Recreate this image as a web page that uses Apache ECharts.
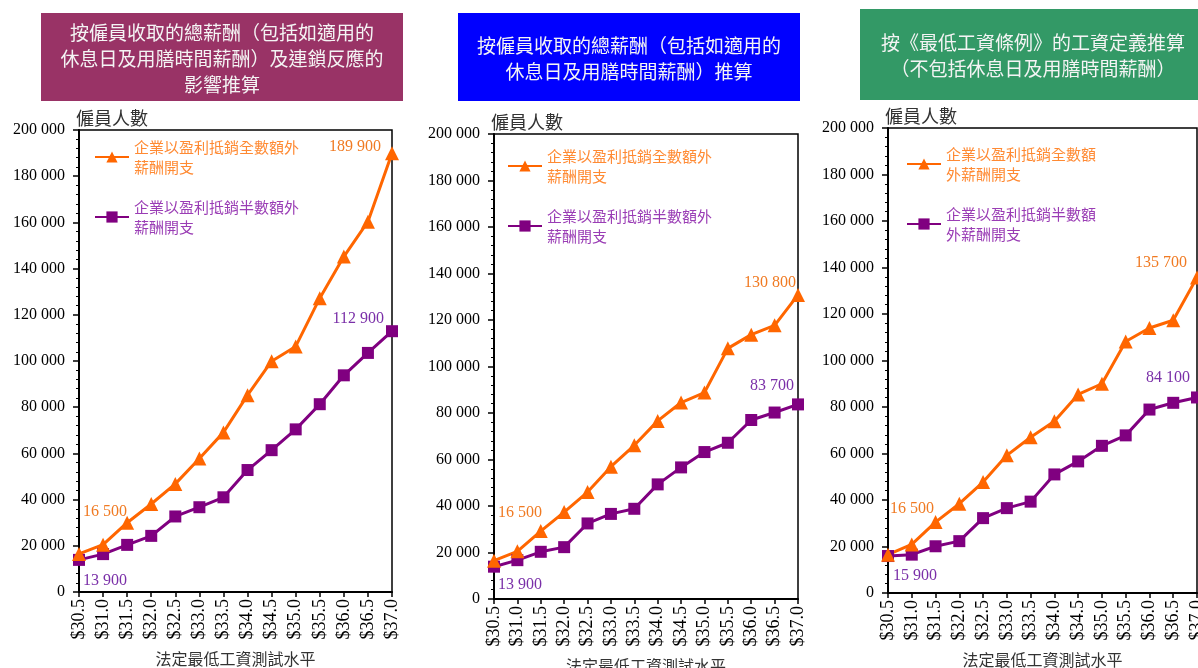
<!DOCTYPE html>
<html>
<head>
<meta charset="utf-8">
<script src="https://cdn.jsdelivr.net/npm/echarts@6/dist/echarts.min.js"></script>
<style>
html,body{margin:0;padding:0;background:#fff;}
#c{width:1198px;height:668px;}
</style>
</head>
<body>
<div id="c"></div>
<script>
// ---- data ----
const categories = ['$30.5','$31.0','$31.5','$32.0','$32.5','$33.0','$33.5','$34.0','$34.5','$35.0','$35.5','$36.0','$36.5','$37.0'];
const seriesFullName = '企業以盈利抵銷全數額外薪酬開支';
const seriesHalfName = '企業以盈利抵銷半數額外薪酬開支';
const panelTitles = [
  ['按僱員收取的總薪酬（包括如適用的', '休息日及用膳時間薪酬）及連鎖反應的', '影響推算'],
  ['按僱員收取的總薪酬（包括如適用的', '休息日及用膳時間薪酬）推算'],
  ['按《最低工資條例》的工資定義推算', '（不包括休息日及用膳時間薪酬）']
];
const yAxisTitle = '僱員人數';
const xAxisTitle = '法定最低工資測試水平';
const yTicks = [0, 20000, 40000, 60000, 80000, 100000, 120000, 140000, 160000, 180000, 200000];

const p1Full = [16500, 20500, 30000, 38100, 46800, 57800, 69100, 85200, 99900, 106300, 127200, 145200, 160300, 189900];
const p1Half = [13900, 16400, 20400, 24300, 32700, 36700, 41000, 52800, 61400, 70400, 81300, 93800, 103500, 112900];
const p2Full = [16500, 20500, 29200, 37400, 46000, 56900, 66100, 76600, 84500, 88800, 107800, 113700, 117700, 130800];
const p2Half = [13900, 16700, 20300, 22300, 32500, 36600, 38800, 49300, 56600, 63200, 67200, 77000, 80200, 83700];
const p3Full = [16500, 20900, 30500, 38400, 47700, 59200, 67000, 73900, 85400, 90000, 108200, 114000, 117300, 135700];
const p3Half = [15900, 16500, 20100, 22300, 32200, 36500, 39300, 51000, 56600, 63300, 67800, 78900, 81800, 84100];

// ---- styles / layout ----
const ORANGE = '#FF6600', PURPLE = '#800080';
const ORANGE_TXT = '#F07A22', PURPLE_TXT = '#7A2FA8';
const LEG_ORANGE = '#FF8A33', LEG_PURPLE = '#9A3DB5';
const SERIF = '"Liberation Serif", "Times New Roman", serif';
const CJK = '"Noto Sans CJK TC", sans-serif';

const grids = [
  {left: 79, top: 130, width: 313, height: 462},
  {left: 494, top: 134, width: 304, height: 465},
  {left: 888, top: 128, width: 309, height: 465}
];
const boxes = [
  {x: 41, y: 13, w: 362, h: 88, color: '#993366', cx: 222, lineY: [33, 59, 85]},
  {x: 458, y: 13, w: 342, h: 88, color: '#0000FF', cx: 629, lineY: [46, 72]},
  {x: 860, y: 9, w: 350, h: 91, color: '#339966', cx: 1033, lineY: [43, 69]}
];
const legendPos = [
  {left: 94, top: 127, full: '企業以盈利抵銷全數額外\n薪酬開支', half: '企業以盈利抵銷半數額外\n薪酬開支'},
  {left: 507, top: 136, full: '企業以盈利抵銷全數額外\n薪酬開支', half: '企業以盈利抵銷半數額外\n薪酬開支'},
  {left: 906, top: 134, full: '企業以盈利抵銷全數額\n外薪酬開支', half: '企業以盈利抵銷半數額\n外薪酬開支'}
];
const labelOffsets = [
  {fullFirst: [-8, -42], halfFirst: [-7, 21], fullLast: [1, -7], halfLast: [3, -12]},
  {fullFirst: [-8, -48], halfFirst: [-7, 18], fullLast: [10, -12], halfLast: [7, -19]},
  {fullFirst: [-10, -46], halfFirst: [-6, 20], fullLast: [2, -15], halfLast: [4, -20]}
];

function fmt(v) {
  return String(v).replace(/\B(?=(\d{3})+(?!\d))/g, ' ');
}

function buildData(vals, firstOff, lastOff, color) {
  const last = vals.length - 1;
  return vals.map((v, i) => {
    if (i === 0) return {value: v, label: {show: true, position: 'right', offset: firstOff, color: color}};
    if (i === last) return {value: v, label: {show: true, position: 'left', offset: lastOff, color: color}};
    return v;
  });
}

const panelData = [[p1Full, p1Half], [p2Full, p2Half], [p3Full, p3Half]];

const option = {
  animation: false,
  textStyle: {fontFamily: SERIF},
  grid: grids.map(g => Object.assign({show: true, borderColor: '#000', borderWidth: 1.5, backgroundColor: '#fff', containLabel: false, outerBoundsMode: 'none'}, g)),
  xAxis: grids.map((g, i) => ({
    type: 'category',
    gridIndex: i,
    data: categories,
    boundaryGap: false,
    name: xAxisTitle,
    nameLocation: 'middle',
    nameGap: 59,
    nameTextStyle: {fontFamily: CJK, fontSize: 16, color: '#333'},
    axisLine: {lineStyle: {color: '#000', width: 2}},
    axisTick: {show: true, length: 5, lineStyle: {color: '#000', width: 1.5}},
    axisLabel: {rotate: 90, interval: 0, fontFamily: SERIF, fontSize: 18, color: '#000', margin: 7},
    splitLine: {show: false}
  })),
  yAxis: grids.map((g, i) => ({
    type: 'value',
    gridIndex: i,
    min: yTicks[0],
    max: yTicks[yTicks.length - 1],
    interval: yTicks[1] - yTicks[0],
    name: yAxisTitle,
    nameLocation: 'end',
    nameGap: 3,
    nameTextStyle: {fontFamily: CJK, fontSize: 18, color: '#333', align: 'left', verticalAlign: 'bottom', padding: [0, 0, 0, -3]},
    axisLine: {show: true, lineStyle: {color: '#000', width: 2}},
    axisTick: {show: true, length: 6, lineStyle: {color: '#000', width: 1.5}},
    minorTick: {show: true, splitNumber: 5, length: 3, lineStyle: {color: '#000', width: 1}},
    axisLabel: {fontFamily: SERIF, fontSize: 16, color: '#000', margin: 14, formatter: v => fmt(v)},
    splitLine: {show: false},
    minorSplitLine: {show: false}
  })),
  legend: legendPos.map(l => ({
    left: l.left, top: l.top, orient: 'vertical',
    itemWidth: 34, itemHeight: 14, itemGap: 0, padding: 0,
    selectedMode: false,
    textStyle: {fontFamily: CJK, fontSize: 15, lineHeight: 20, padding: [20, 0, 0, 0]},
    data: [
      {name: seriesFullName, textStyle: {color: LEG_ORANGE}},
      {name: seriesHalfName, textStyle: {color: LEG_PURPLE}}
    ],
    formatter: n => (n === seriesFullName ? l.full : l.half)
  })),
  series: [],
  graphic: []
};

panelData.forEach((pd, i) => {
  const off = labelOffsets[i];
  option.series.push({
    name: seriesHalfName, type: 'line', xAxisIndex: i, yAxisIndex: i,
    symbol: 'rect', symbolSize: 12,
    lineStyle: {color: PURPLE, width: 3}, itemStyle: {color: PURPLE},
    label: {fontFamily: SERIF, fontSize: 16, formatter: p => fmt(p.value)},
    data: buildData(pd[1], off.halfFirst, off.halfLast, PURPLE_TXT)
  });
  option.series.push({
    name: seriesFullName, type: 'line', xAxisIndex: i, yAxisIndex: i,
    symbol: 'triangle', symbolSize: 14,
    lineStyle: {color: ORANGE, width: 3}, itemStyle: {color: ORANGE},
    label: {fontFamily: SERIF, fontSize: 16, formatter: p => fmt(p.value)},
    data: buildData(pd[0], off.fullFirst, off.fullLast, ORANGE_TXT)
  });
});

boxes.forEach((b, i) => {
  option.graphic.push({type: 'rect', shape: {x: b.x, y: b.y, width: b.w, height: b.h}, style: {fill: b.color}, z: 10});
  panelTitles[i].forEach((line, k) => {
    option.graphic.push({type: 'text', x: b.cx, y: b.lineY[k], z: 11,
      style: {text: line, fill: '#F4F4F4', fontFamily: CJK, fontSize: 19, align: 'center', verticalAlign: 'middle'}});
  });
});

const chart = echarts.init(document.getElementById('c'));
chart.setOption(option);
</script>
</body>
</html>
